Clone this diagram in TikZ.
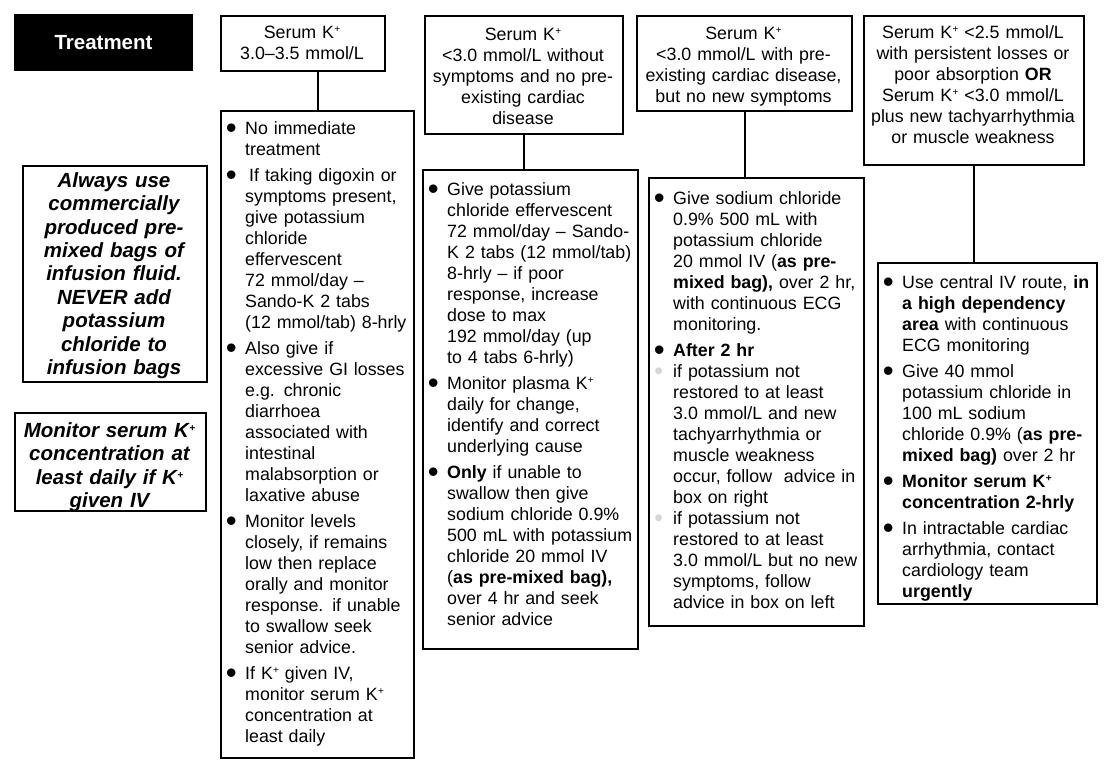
\documentclass[tikz,border=0pt]{standalone}
\usepackage{fontspec}
\setmainfont{Liberation Sans}
\newcommand\Kp{K\kern0.3pt\raisebox{6pt}{\fontsize{10}{10}\selectfont +}}
\newcommand\bigdot{\raisebox{-4.3pt}{\scalebox{1.75}{\textbullet}}}
\newcommand\bul{\leavevmode\llap{\bigdot\kern8.5pt}}
\newcommand\lbul{\leavevmode\llap{\textcolor{black!16}{\raisebox{-2.6pt}{\scalebox{1.4}{\textbullet}}}\kern10pt}}
\newcommand\fst{\rule{0pt}{18pt}}
\newcommand\gap{\par\vspace{5pt}}
\tikzset{
  box/.style={draw, line width=2pt, inner sep=0pt, anchor=north west},
  conn/.style={draw, line width=2pt},
  txt/.style={inner sep=0pt, anchor=north west, align=left, text width=225pt,
    font=\fontsize{17.8}{21}\selectfont},
  htxt/.style={inner sep=0pt, anchor=north, align=center, text width=260pt,
    font=\fontsize{17.8}{21}\selectfont},
  itxt/.style={inner sep=0pt, anchor=north, align=center, text width=220pt,
    font=\fontsize{20.5}{23.4}\selectfont\bfseries\itshape},
}
\begin{document}
\begin{tikzpicture}[x=1pt,y=-1pt]
\useasboundingbox[fill=white] (0,0) rectangle (1111,776);

% Treatment label
\node[fill=black, inner sep=0pt, minimum width=179pt, minimum height=57pt,
  text=white, font=\fontsize{20.5}{24}\selectfont\bfseries] (treat) at (103.5,42.5) {Treatment};

% header boxes
\node[box, minimum width=164pt, minimum height=55pt] (h1) at (220,15) {};
\node[box, minimum width=198pt, minimum height=118pt] (h2) at (424,15) {};
\node[box, minimum width=215pt, minimum height=95pt] (h3) at (636,15) {};
\node[box, minimum width=220pt, minimum height=149pt] (h4) at (863,15) {};

\node[htxt] (h1t) at (302,20) {\fst Serum \Kp\\3.0–3.5 mmol/L};
\node[htxt] (h2t) at (523,22) {\fst Serum \Kp\\<3.0 mmol/L without\\symptoms and no pre-\\existing cardiac\\disease};
\node[htxt] (h3t) at (743.5,21) {\fst Serum \Kp\\<3.0 mmol/L with pre-\\existing cardiac disease,\\but no new symptoms};
\node[htxt] (h4t) at (973,20) {\fst Serum \Kp{} <2.5 mmol/L\\with persistent losses or\\poor absorption \textbf{OR}\\Serum \Kp{} <3.0 mmol/L\\plus new tachyarrhythmia\\or muscle weakness};

% body boxes
\node[box, minimum width=193pt, minimum height=647pt] (b1) at (220,110) {};
\node[box, minimum width=215pt, minimum height=479pt] (b2) at (422,169) {};
\node[box, minimum width=215pt, minimum height=448pt] (b3) at (648,177) {};
\node[box, minimum width=219pt, minimum height=341pt] (b4) at (877,262) {};

% connectors
\draw[conn] (b1.north) -- (b1.north |- h1.south);
\draw[conn] (h2.south) -- (h2.south |- b2.north);
\draw[conn] (h3.south) -- (h3.south |- b3.north);
\draw[conn] (h4.south) -- (h4.south |- b4.north);

% body texts
\node[txt] (b1t) at (245,116) {\fst\bul No immediate\\
treatment\gap
\bul\kern4pt If taking digoxin or\\
symptoms present,\\
give potassium\\
chloride\\
effervescent\\
72 mmol/day –\\
Sando-K 2 tabs\\
(12 mmol/tab) 8-hrly\gap
\bul Also give if\\
excessive GI losses\\
e.g. chronic\\
diarrhoea\\
associated with\\
intestinal\\
malabsorption or\\
laxative abuse\gap
\bul Monitor levels\\
closely, if remains\\
low then replace\\
orally and monitor\\
response. if unable\\
to swallow seek\\
senior advice.\gap
\bul If \Kp{} given IV,\\
monitor serum \Kp\\
concentration at\\
least daily};

\node[txt] (b2t) at (447,177) {\fst\bul Give potassium\\
chloride effervescent\\
72 mmol/day – Sando-\\
K 2 tabs (12 mmol/tab)\\
8-hrly – if poor\\
response, increase\\
dose to max\\
192 mmol/day (up\\
to 4 tabs 6-hrly)\gap
\bul Monitor plasma \Kp\\
daily for change,\\
identify and correct\\
underlying cause\gap
\bul \textbf{Only} if unable to\\
swallow then give\\
sodium chloride 0.9\%\\
500 mL with potassium\\
chloride 20 mmol IV\\
(\textbf{as pre-mixed bag),}\\
over 4 hr and seek\\
senior advice};

\node[txt] (b3t) at (673,186) {\fst\bul Give sodium chloride\\
0.9\% 500 mL with\\
potassium chloride\\
20 mmol IV (\textbf{as pre-}\\
\textbf{mixed bag),} over 2 hr,\\
with continuous ECG\\
monitoring.\gap
\bul \textbf{After 2 hr}\\
\lbul if potassium not\\
restored to at least\\
3.0 mmol/L and new\\
tachyarrhythmia or\\
muscle weakness\\
occur, follow\ \ advice in\\
box on right\\
\lbul if potassium not\\
restored to at least\\
3.0 mmol/L but no new\\
symptoms, follow\\
advice in box on left};

\node[txt] (b4t) at (902,270) {\fst\bul Use central IV route, \textbf{in}\\
\textbf{a high dependency}\\
\textbf{area} with continuous\\
ECG monitoring\gap
\bul Give 40 mmol\\
potassium chloride in\\
100 mL sodium\\
chloride 0.9\% (\textbf{as pre-}\\
\textbf{mixed bag)} over 2 hr\gap
\bul \textbf{Monitor serum \Kp}\\
\textbf{concentration 2-hrly}\gap
\bul In intractable cardiac\\
arrhythmia, contact\\
cardiology team\\
\textbf{urgently}};

% left info boxes
\node[box, minimum width=184pt, minimum height=216pt] (l1) at (22,165) {};
\node[box, minimum width=191pt, minimum height=98pt] (l2) at (14,412) {};
\node[itxt] (l1t) at (114,169) {\fst Always use\\commercially\\produced pre-\\mixed bags of\\infusion fluid.\\NEVER add\\potassium\\chloride to\\infusion bags};
\node[itxt] (l2t) at (109.5,419) {\fst Monitor serum \Kp\\concentration at\\least daily if \Kp\\given IV};
\end{tikzpicture}
\end{document}
